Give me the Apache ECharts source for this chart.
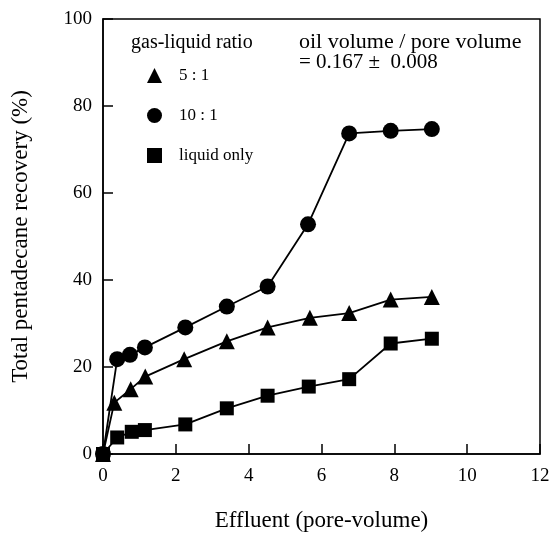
<!DOCTYPE html>
<html><head><meta charset="utf-8">
<script src="https://cdn.jsdelivr.net/npm/echarts@6/dist/echarts.min.js"></script>
<style>html,body{margin:0;padding:0;background:#fff}#c{width:549px;height:534px}</style>
</head><body><div id="c"></div>
<script>
var xTri = [0, 0.31, 0.76, 1.16, 2.23, 3.4, 4.52, 5.68, 6.76, 7.9, 9.03];
var yTri = [0, 11.8, 14.9, 17.8, 21.8, 25.9, 29.1, 31.3, 32.4, 35.5, 36.1];
var xCir = [0, 0.39, 0.74, 1.15, 2.26, 3.4, 4.52, 5.63, 6.76, 7.9, 9.03];
var yCir = [0, 21.8, 22.8, 24.5, 29.1, 33.9, 38.5, 52.8, 73.7, 74.3, 74.7];
var xSq = [0, 0.39, 0.79, 1.15, 2.26, 3.4, 4.52, 5.65, 6.76, 7.9, 9.03];
var ySq = [0, 3.8, 5.1, 5.5, 6.8, 10.5, 13.4, 15.5, 17.2, 25.4, 26.5];
var seriesNames = ['5 : 1', '10 : 1', 'liquid only'];
var xTicks = [0, 2, 4, 6, 8, 10, 12];
var yTicks = [0, 20, 40, 60, 80, 100];

function pairs(xs, ys){ return xs.map(function(x,i){return [x, ys[i]];}); }
var font = 'Liberation Serif';
var chart = echarts.init(document.getElementById('c'));
function mk(name, sym, size, xs, ys){
  return {name:name, type:'line', data:pairs(xs,ys), symbol:sym, symbolSize:size,
    itemStyle:{color:'#000'}, lineStyle:{color:'#000', width:1.8}, showAllSymbol:true, z:3, animation:false};
}
chart.setOption({
  animation:false,
  backgroundColor:'#fff',
  grid:{left:103, right:9, top:19, bottom:80, outerBoundsMode:'none', containLabel:false,
    show:true, borderColor:'#000', borderWidth:1.5, backgroundColor:'transparent'},
  xAxis:{type:'value', min:0, max:12, interval:2,
    name:'Effluent (pore-volume)', nameLocation:'middle', nameGap:55,
    nameTextStyle:{fontFamily:font, fontSize:23, color:'#000'},
    axisLine:{show:true, lineStyle:{color:'#000', width:1.5}},
    axisTick:{show:true, inside:true, length:10, lineStyle:{color:'#000', width:1.5}},
    axisLabel:{fontFamily:font, fontSize:19, color:'#000', margin:13, formatter:function(v){return xTicks.indexOf(v)>=0?String(v):'';}},
    splitLine:{show:false}},
  yAxis:{type:'value', min:0, max:100, interval:20,
    name:'Total pentadecane recovery (%)', nameLocation:'middle', nameGap:71, nameRotate:90,
    nameTextStyle:{fontFamily:font, fontSize:23, color:'#000'},
    axisLine:{show:true, lineStyle:{color:'#000', width:1.5}},
    axisTick:{show:true, inside:true, length:10, lineStyle:{color:'#000', width:1.5}},
    axisLabel:{fontFamily:font, fontSize:19, color:'#000', margin:11, formatter:function(v){return yTicks.indexOf(v)>=0?String(v):'';}},
    splitLine:{show:false}},
  legend:{orient:'vertical', left:142, top:62, itemWidth:15, itemHeight:15, itemGap:23,
    data:[{name:seriesNames[0], icon:'triangle'},{name:seriesNames[1], icon:'circle'},{name:seriesNames[2], icon:'rect'}],
    textStyle:{fontFamily:font, fontSize:17, color:'#000', padding:[0,0,0,12]}, selectedMode:false},
  graphic:[
    {type:'text', left:131, top:33, style:{text:'gas-liquid ratio', font:'20px "Liberation Serif"', fill:'#000'}},
    {type:'text', left:299, top:31, style:{text:'oil volume / pore volume', font:'22px "Liberation Serif"', fill:'#000'}},
    {type:'text', left:299, top:52, style:{text:'= 0.167 \u00B1  0.008', font:'21px "Liberation Serif"', fill:'#000'}}
  ],
  series:[
    mk(seriesNames[0], 'triangle', 16, xTri, yTri),
    mk(seriesNames[1], 'circle', 16, xCir, yCir),
    mk(seriesNames[2], 'rect', 14, xSq, ySq)
  ]
});
</script></body></html>
